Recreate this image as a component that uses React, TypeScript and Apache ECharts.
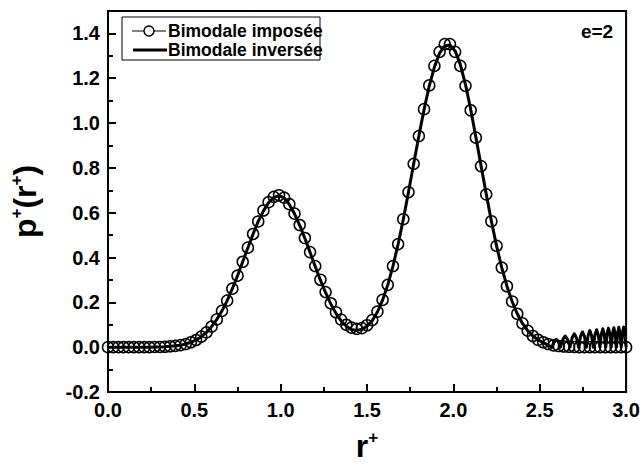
import React, { useEffect, useRef } from 'react';
import * as echarts from 'echarts';

// Imposed bimodal distribution (circles), r+ step 0.03
const impR = [
  0.00, 0.03, 0.06, 0.09, 0.12, 0.15, 0.18, 0.21, 0.24, 0.27,
  0.30, 0.33, 0.36, 0.39, 0.42, 0.45, 0.48, 0.51, 0.54, 0.57,
  0.60, 0.63, 0.66, 0.69, 0.72, 0.75, 0.78, 0.81, 0.84, 0.87,
  0.90, 0.93, 0.96, 0.99, 1.02, 1.05, 1.08, 1.11, 1.14, 1.17,
  1.20, 1.23, 1.26, 1.29, 1.32, 1.35, 1.38, 1.41, 1.44, 1.47,
  1.50, 1.53, 1.56, 1.59, 1.62, 1.65, 1.68, 1.71, 1.74, 1.77,
  1.80, 1.83, 1.86, 1.89, 1.92, 1.95, 1.98, 2.01, 2.04, 2.07,
  2.10, 2.13, 2.16, 2.19, 2.22, 2.25, 2.28, 2.31, 2.34, 2.37,
  2.40, 2.43, 2.46, 2.49, 2.52, 2.55, 2.58, 2.61, 2.64, 2.67,
  2.70, 2.73, 2.76, 2.79, 2.82, 2.85, 2.88, 2.91, 2.94, 2.97,
  3.00,
];
const impP = [
  0.000, 0.000, 0.000, 0.000, 0.000, 0.000, 0.000, 0.000, 0.000, 0.001,
  0.001, 0.002, 0.004, 0.006, 0.009, 0.014, 0.022, 0.032, 0.047, 0.066,
  0.092, 0.124, 0.162, 0.208, 0.261, 0.319, 0.381, 0.444, 0.505, 0.561,
  0.610, 0.647, 0.671, 0.678, 0.667, 0.638, 0.596, 0.545, 0.487, 0.424,
  0.362, 0.301, 0.246, 0.196, 0.156, 0.123, 0.100, 0.087, 0.082, 0.085,
  0.098, 0.121, 0.159, 0.211, 0.278, 0.362, 0.460, 0.571, 0.692, 0.818,
  0.942, 1.062, 1.168, 1.255, 1.318, 1.352, 1.352, 1.318, 1.255, 1.166,
  1.057, 0.935, 0.808, 0.682, 0.562, 0.452, 0.355, 0.272, 0.204, 0.149,
  0.106, 0.074, 0.050, 0.033, 0.022, 0.014, 0.008, 0.005, 0.003, 0.002,
  0.001, 0.000, 0.000, 0.000, 0.000, 0.000, 0.000, 0.000, 0.000, 0.000,
  0.000,
];

// Inverted bimodal distribution (thick line), with oscillating tail
const invR = [
  0.00, 0.03, 0.06, 0.09, 0.12, 0.15, 0.18, 0.21, 0.24, 0.27,
  0.30, 0.33, 0.36, 0.39, 0.42, 0.45, 0.48, 0.51, 0.54, 0.57,
  0.60, 0.63, 0.66, 0.69, 0.72, 0.75, 0.78, 0.81, 0.84, 0.87,
  0.90, 0.93, 0.96, 0.99, 1.02, 1.05, 1.08, 1.11, 1.14, 1.17,
  1.20, 1.23, 1.26, 1.29, 1.32, 1.35, 1.38, 1.41, 1.44, 1.47,
  1.50, 1.53, 1.56, 1.59, 1.62, 1.65, 1.68, 1.71, 1.74, 1.77,
  1.80, 1.83, 1.86, 1.89, 1.92, 1.95, 1.98, 2.01, 2.04, 2.07,
  2.10, 2.13, 2.16, 2.19, 2.22, 2.25, 2.28, 2.31, 2.34, 2.37,
  2.40, 2.43, 2.46, 2.49, 2.52, 2.55,
  2.570, 2.5825, 2.595, 2.6075, 2.620,
  2.634, 2.6475, 2.661, 2.675,
  2.6875, 2.700, 2.7125, 2.725,
  2.736, 2.7475, 2.759, 2.770,
  2.780, 2.790, 2.800, 2.810,
  2.8195, 2.829, 2.8385, 2.848,
  2.8565, 2.865, 2.8735, 2.882,
  2.890, 2.898, 2.906, 2.914,
  2.9215, 2.929, 2.9365, 2.944,
  2.951, 2.958, 2.965, 2.972,
  2.979, 2.986, 2.993, 3.000,
];
const invP = [
  0.000, 0.000, 0.000, 0.000, 0.000, 0.000, 0.000, 0.000, 0.000, 0.001,
  0.001, 0.002, 0.004, 0.006, 0.009, 0.014, 0.022, 0.032, 0.047, 0.066,
  0.092, 0.124, 0.162, 0.208, 0.261, 0.319, 0.381, 0.444, 0.505, 0.561,
  0.608, 0.645, 0.668, 0.676, 0.666, 0.637, 0.595, 0.544, 0.486, 0.423,
  0.360, 0.299, 0.243, 0.193, 0.151, 0.117, 0.093, 0.079, 0.075, 0.080,
  0.094, 0.118, 0.157, 0.210, 0.278, 0.362, 0.460, 0.571, 0.692, 0.818,
  0.942, 1.060, 1.165, 1.250, 1.312, 1.344, 1.348, 1.322, 1.262, 1.172,
  1.062, 0.938, 0.810, 0.684, 0.562, 0.452, 0.355, 0.272, 0.204, 0.149,
  0.106, 0.074, 0.050, 0.033, 0.020, 0.008,
  0.000, 0.025, 0.035, 0.025, 0.000,
  0.035, 0.050, 0.035, 0.000,
  0.042, 0.060, 0.042, 0.000,
  0.048, 0.068, 0.048, 0.000,
  0.052, 0.074, 0.052, 0.000,
  0.055, 0.078, 0.055, 0.000,
  0.057, 0.082, 0.057, 0.000,
  0.060, 0.085, 0.060, 0.000,
  0.061, 0.087, 0.061, 0.000,
  0.062, 0.089, 0.062, 0.000,
  0.063, 0.090, 0.063, 0.000,
];

const seriesNames = ['Bimodale imposée', 'Bimodale inversée'];
const caseLabel = 'e=2';

const FONT = "'Liberation Sans', Arial, Helvetica, sans-serif";

export default function App() {
  const ref = useRef<HTMLDivElement>(null);

  useEffect(() => {
    const chart = echarts.init(ref.current!, null, { renderer: 'svg' });
    const imposed = impR.map((r, i) => [r, impP[i]]);
    const inverse = invR.map((r, i) => [r, invP[i]]);

    const axisLabel = {
      color: '#000',
      fontFamily: FONT,
      fontWeight: 'bold',
      fontSize: 20,
      margin: 8,
      formatter: (v: number) => v.toFixed(1),
    };
    const axisLine = { show: true, onZero: false, lineStyle: { color: '#000', width: 2 } };

    const option: any = {
      animation: false,
      backgroundColor: '#fff',
      grid: {
        left: 105,
        right: 15,
        top: 11,
        bottom: 68,
        show: true,
        borderColor: '#000',
        borderWidth: 2,
        backgroundColor: 'transparent',
      },
      xAxis: {
        type: 'value',
        min: 0,
        max: 3,
        interval: 0.5,
        axisLine,
        axisTick: { show: true, inside: true, length: 8, lineStyle: { color: '#000', width: 2 } },
        minorTick: { show: true, splitNumber: 2, length: 5, lineStyle: { color: '#000', width: 2 } },
        splitLine: { show: false },
        minorSplitLine: { show: false },
        axisLabel,
        name: '{m|r}{s|+}',
        nameLocation: 'middle',
        nameGap: 37,
        nameTextStyle: {
          color: '#000',
          fontFamily: FONT,
          fontWeight: 'bold',
          fontSize: 30,
          rich: {
            m: { fontFamily: FONT, fontWeight: 'bold', fontSize: 32, color: '#000', lineHeight: 34 },
            s: { fontFamily: FONT, fontWeight: 'bold', fontSize: 17, color: '#000', verticalAlign: 'top', lineHeight: 17 },
          },
        },
      },
      yAxis: {
        type: 'value',
        min: -0.2,
        max: 1.5,
        interval: 0.2,
        axisLine,
        axisTick: { show: true, inside: true, length: 8, lineStyle: { color: '#000', width: 2 } },
        minorTick: { show: true, splitNumber: 2, length: 5, lineStyle: { color: '#000', width: 2 } },
        splitLine: { show: false },
        minorSplitLine: { show: false },
        axisLabel: { ...axisLabel, showMaxLabel: false },
        name: '{m|p}{s|+}{m|(r}{s|+}{m|)}',
        nameLocation: 'middle',
        nameRotate: 90,
        nameGap: 66,
        nameTextStyle: {
          color: '#000',
          fontFamily: FONT,
          fontWeight: 'bold',
          fontSize: 30,
          rich: {
            m: { fontFamily: FONT, fontWeight: 'bold', fontSize: 32, color: '#000', lineHeight: 34 },
            s: { fontFamily: FONT, fontWeight: 'bold', fontSize: 17, color: '#000', verticalAlign: 'top', lineHeight: 17 },
          },
        },
      },
      series: [
        {
          name: seriesNames[0],
          type: 'line',
          data: imposed,
          symbol: 'circle',
          symbolSize: 11,
          showSymbol: true,
          showAllSymbol: true,
          lineStyle: { opacity: 0, width: 0 },
          itemStyle: { color: 'rgba(0,0,0,0)', borderColor: '#000', borderWidth: 1.5 },
          z: 2,
        },
        {
          name: seriesNames[1],
          type: 'line',
          data: inverse,
          symbol: 'none',
          showSymbol: false,
          lineStyle: { color: '#000', width: 3, join: 'round' },
          z: 3,
        },
      ],
      graphic: [
        {
          type: 'rect',
          shape: { x: 122, y: 17, width: 198, height: 43 },
          style: { fill: '#fff', stroke: '#000', lineWidth: 1 },
          z: 10,
        },
        {
          type: 'line',
          shape: { x1: 132, y1: 31, x2: 166, y2: 31 },
          style: { stroke: '#000', lineWidth: 1 },
          z: 11,
        },
        {
          type: 'circle',
          shape: { cx: 149, cy: 31, r: 5 },
          style: { fill: '#fff', stroke: '#000', lineWidth: 1.5 },
          z: 12,
        },
        {
          type: 'text',
          x: 168,
          y: 31,
          style: {
            text: seriesNames[0],
            fill: '#000',
            font: `bold 17.5px ${FONT}`,
            verticalAlign: 'middle',
          },
          z: 12,
        },
        {
          type: 'line',
          shape: { x1: 133, y1: 50, x2: 167, y2: 50 },
          style: { stroke: '#000', lineWidth: 3 },
          z: 11,
        },
        {
          type: 'text',
          x: 168,
          y: 50,
          style: {
            text: seriesNames[1],
            fill: '#000',
            font: `bold 17.5px ${FONT}`,
            verticalAlign: 'middle',
          },
          z: 12,
        },
        {
          type: 'text',
          x: 597,
          y: 31,
          style: {
            text: caseLabel,
            fill: '#000',
            font: `bold 19px ${FONT}`,
            align: 'center',
            verticalAlign: 'middle',
          },
          z: 12,
        },
      ],
    };

    chart.setOption(option);
    return () => chart.dispose();
  }, []);

  return (
    <div
      ref={ref}
      style={{ position: 'absolute', left: 0, top: 0, width: 643, height: 467, background: '#fff' }}
    />
  );
}
